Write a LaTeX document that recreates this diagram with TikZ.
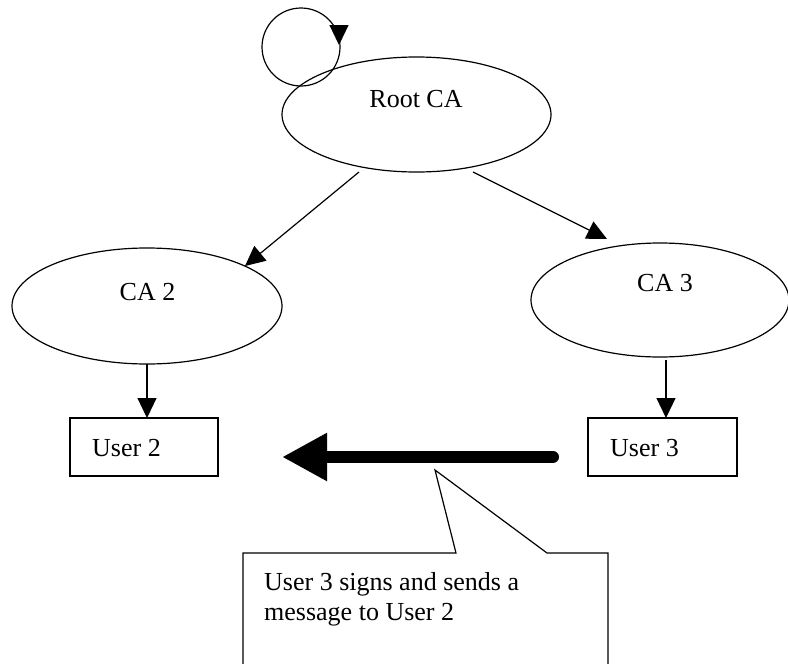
\documentclass[tikz,border=0pt]{standalone}
\usepackage{fontspec}
\setmainfont{Liberation Serif}
\usetikzlibrary{shapes.geometric,arrows.meta,calc}
\tikzset{
  oval/.style={ellipse,draw,line width=1.2pt,inner sep=0pt},
  userbox/.style={rectangle,draw,line width=1.2pt,inner sep=0pt},
  lbl/.style={font=\fontsize{26}{30}\selectfont,inner sep=0pt},
  arr/.style={line width=1.2pt,-{Triangle[length=20pt,width=19pt]}},
  bigarr/.style={line width=12pt,line cap=round,-{Triangle[length=45pt,width=45pt]}},
  plain/.style={line width=1.2pt}
}
\begin{document}
\begin{tikzpicture}[x=1pt,y=-1pt]
\useasboundingbox (0,0) rectangle (788,664);
% self loop
\node[circle,draw,line width=1.2pt,minimum size=78pt,inner sep=0pt] (loop) at (301,47) {};
\coordinate (loopa) at (339,25);
\coordinate (loopb) at (339,45);
\draw[arr] (loopa) -- (loopb);
% ellipses
\node[oval,minimum width=269pt,minimum height=115pt] (root) at (416.5,114.5) {};
\node[lbl] (rootl) at (416,99) {Root CA};
\node[oval,minimum width=270pt,minimum height=116pt] (ca2) at (147,306) {};
\node[lbl] (ca2l) at (147.5,292) {CA 2};
\node[oval,minimum width=258pt,minimum height=114pt] (ca3) at (660,300) {};
\node[lbl] (ca3l) at (665,283) {CA 3};
% user boxes
\node[userbox,minimum width=148pt,minimum height=58pt] (u2) at (144,447) {};
\node[lbl,anchor=base west] (u2l) at (92,456) {User 2};
\node[userbox,minimum width=149pt,minimum height=58pt] (u3) at (662.5,447) {};
\node[lbl,anchor=base west] (u3l) at (610,456) {User 3};
% connectors
\coordinate (r2s) at (359,172);
\coordinate (r2e) at (245,266);
\coordinate (r3s) at (473,172);
\coordinate (r3e) at (607,239);
\draw[arr] (r2s) -- (r2e);
\draw[arr] (r3s) -- (r3e);
\coordinate (c2s) at (147,364);
\coordinate (c2e) at (147,418);
\draw[arr] (c2s) -- (c2e);
\coordinate (c3s) at (666,360);
\coordinate (c3e) at (666,418);
\draw[arr] (c3s) -- (c3e);
% big arrow
\coordinate (ms) at (553,457);
\coordinate (me) at (282,457);
\draw[bigarr] (ms) -- (me);
% callout
\coordinate (tip) at (435,470);
\draw[plain,line join=miter] (243,664) -- (243,553) -- (456,553) -- (tip) -- (547,553) -- (608,553) -- (608,664);
\node[lbl,anchor=base west] (note1) at (264,590) {User 3 signs and sends a};
\node[lbl,anchor=base west] (note2) at (264,620) {message to User 2};
\end{tikzpicture}
\end{document}
